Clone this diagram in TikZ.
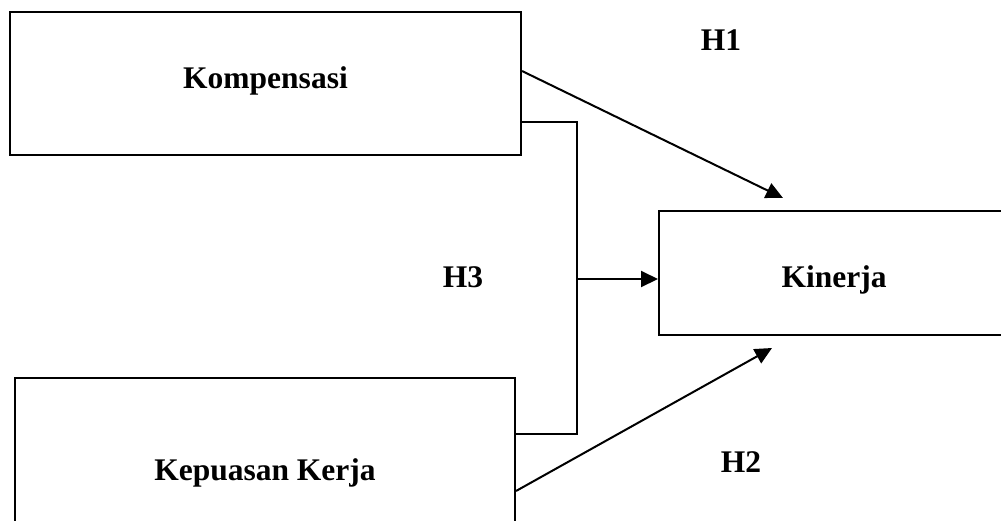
\documentclass[tikz,border=0pt]{standalone}
\usepackage{fontspec}
\setmainfont{Liberation Serif}
\usetikzlibrary{arrows.meta,positioning,calc}

\tikzset{
  varbox/.style={draw, line width=2pt, inner sep=0pt, font=\fontsize{31.5}{38}\selectfont\bfseries},
  hlabel/.style={anchor=base, font=\fontsize{31.5}{38}\selectfont\bfseries},
  link/.style={line width=2pt},
  path/.style={line width=2pt, -{Triangle[length=17pt,width=16pt]}}
}

\begin{document}
\begin{tikzpicture}[x=1pt,y=-1pt]
\useasboundingbox (0,0) rectangle (1001,520);
% variables
\node[varbox, minimum width=511pt, minimum height=143pt, text height=29pt, text depth=20pt] (komp) at (265.5,83.5) {Kompensasi};
\node[varbox, minimum width=350pt, minimum height=124pt, text height=35pt, text depth=7pt] (kin) at (834,273) {Kinerja};
\node[varbox, minimum width=500pt, minimum height=184pt, text height=40pt, text depth=20pt] (kep) at (265,470) {Kepuasan Kerja};
% hypothesis labels
\node[hlabel] (h1) at (721,50) {H1};
\node[hlabel] (h2) at (741,472) {H2};
\node[hlabel] (h3) at (463,287) {H3};
% end points
\coordinate (h1s) at (komp.east |- 0,71);
\coordinate (h1e) at (783,198);
\coordinate (h2s) at (kep.east |- 0,491);
\coordinate (h2e) at (772,348);
\coordinate (k3) at (komp.east |- 0,122);
\coordinate (p3) at (kep.east |- 0,434);
\coordinate (b1) at (577,122);
\coordinate (b2) at (577,434);
\coordinate (bm) at (577,279);
% H1, H2
\draw[path] (h1s) -- (h1e);
\draw[path] (h2s) -- (h2e);
% H3
\draw[link] (k3) -- (b1) -- (b2) -- (p3);
\draw[path] (bm) -- (bm -| kin.west);
\end{tikzpicture}
\end{document}
